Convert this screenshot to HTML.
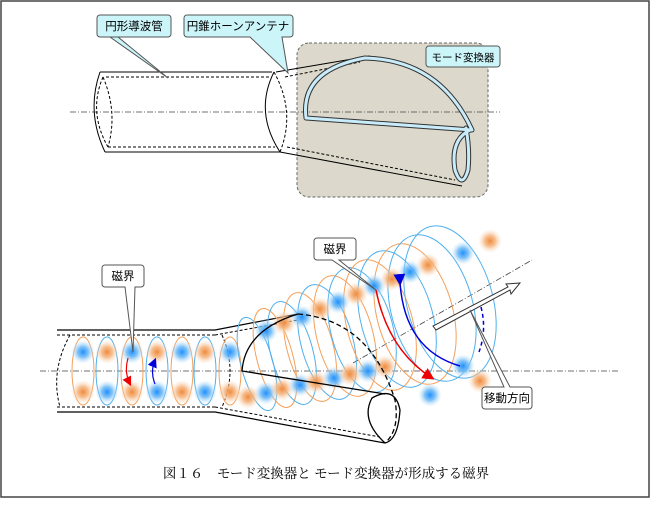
<!DOCTYPE html>
<html><head><meta charset="utf-8"><style>
html,body{margin:0;padding:0;background:#fff;}
svg{display:block;font-family:"Liberation Sans","Noto Sans CJK JP",sans-serif;}
</style></head><body>
<svg width="652" height="512" viewBox="0 0 652 512" xmlns="http://www.w3.org/2000/svg">
<defs>
<radialGradient id="gb"><stop offset="0" stop-color="#1e90ff"/><stop offset="0.45" stop-color="#6bb8f5" stop-opacity="0.85"/><stop offset="1" stop-color="#cfe8fb" stop-opacity="0"/></radialGradient>
<radialGradient id="go"><stop offset="0" stop-color="#f08a3c"/><stop offset="0.45" stop-color="#f5b47e" stop-opacity="0.85"/><stop offset="1" stop-color="#fbe0c8" stop-opacity="0"/></radialGradient>
<marker id="ar" markerWidth="8" markerHeight="8" refX="6" refY="4" orient="auto"><path d="M0,0 L8,4 L0,8z" fill="#e00"/></marker>
<marker id="ab" markerWidth="8" markerHeight="8" refX="6" refY="4" orient="auto"><path d="M0,0 L8,4 L0,8z" fill="#00d"/></marker>
</defs>
<rect x="1" y="1" width="648" height="496" fill="none" stroke="#444" stroke-width="1.5"/>

<!-- TOP -->
<rect x="297" y="43" width="191" height="154" rx="12" fill="#dcd9cc" stroke="#666" stroke-dasharray="3,2"/>
<line x1="70" y1="112" x2="500" y2="112" stroke="#444" stroke-width="0.8" stroke-dasharray="6,2,1,2"/>
<g fill="none" stroke="#000" stroke-width="1">
<path d="M100,72 L272,72 M105,152 L280,152"/>
<path d="M100,72 Q86,112 105,152"/>
<path d="M103,77 Q88,112 108,147" stroke-dasharray="3,2"/>
<path d="M103,77 Q118,112 108,147" stroke-dasharray="3,2"/>
<path d="M106,77 L270,77 M108,147 L275,147" stroke-dasharray="3,2"/>
<path d="M274,72 Q254,112 280,152"/>
<path d="M274,72 Q296,112 280,152" stroke-dasharray="3,2"/>
<path d="M276,72 L370,56 M280,152 L462,186"/>
<path d="M285,77 L360,62 M287,147 L455,180" stroke-dasharray="3,2"/>
</g>
<g fill="none" stroke-linecap="round" stroke-linejoin="round">
<path d="M306,118 Q300,70 365,58 Q440,60 472,130 L306,118 M470,130 Q450,140 455,170 Q462,190 468,170 Q470,150 466,128" stroke="#333" stroke-width="5"/>
<path d="M306,118 Q300,70 365,58 Q440,60 472,130 L306,118 M470,130 Q450,140 455,170 Q462,190 468,170 Q470,150 466,128" stroke="#c9ecfa" stroke-width="3"/>
</g>
<g font-size="11.5">
<path d="M100,15 h68 a3,3 0 0 1 3,3 v16 a3,3 0 0 1 -3,3 h-58 l58,41 l-50,-41 h-18 a3,3 0 0 1 -3,-3 v-16 a3,3 0 0 1 3,-3z" fill="#ccf5fa" stroke="#555"/>
<text x="134" y="30" text-anchor="middle">円形導波管</text>
<path d="M187,15 h103 a3,3 0 0 1 3,3 v16 a3,3 0 0 1 -3,3 h-8 l6,36 l-38,-36 h-63 a3,3 0 0 1 -3,-3 v-16 a3,3 0 0 1 3,-3z" fill="#ccf5fa" stroke="#555"/>
<text x="238" y="30" text-anchor="middle">円錐ホーンアンテナ</text>
<rect x="426" y="46" width="74" height="21" rx="3" fill="#ccf5fa" stroke="#555"/>
<text x="463" y="61" text-anchor="middle" font-size="10.5">モード変換器</text>
</g>

<!-- BOTTOM -->
<line x1="40" y1="371" x2="620" y2="371" stroke="#444" stroke-width="0.8" stroke-dasharray="6,2,1,2"/>
<line x1="353" y1="363" x2="532" y2="260" stroke="#444" stroke-width="0.8" stroke-dasharray="6,2,1,2"/>
<g fill="none" stroke="#000">
<path d="M57,330 L215,330 L298,314 M57,412 L215,412 L385,443" stroke-width="1.2"/>
<path d="M57,335 L215,335 M57,407 L215,407 M215,335 L298,320 M215,407 L380,437" stroke-dasharray="3,2"/>
<path d="M70,335 Q50,371 60,407" stroke-dasharray="3,2"/>
<path d="M222,335 Q238,371 222,407" stroke-dasharray="3,2"/>
</g>
<g fill="none" stroke-width="1">
<ellipse cx="83" cy="371" rx="11" ry="34" stroke="#f5a05a"/>
<ellipse cx="107" cy="371" rx="11" ry="34" stroke="#4fb0ee"/>
<ellipse cx="132" cy="371" rx="11" ry="34" stroke="#f5a05a"/>
<ellipse cx="157" cy="371" rx="11" ry="34" stroke="#4fb0ee"/>
<ellipse cx="182" cy="371" rx="11" ry="34" stroke="#f5a05a"/>
<ellipse cx="205" cy="371" rx="11" ry="34" stroke="#4fb0ee"/>
<ellipse cx="230" cy="371" rx="11" ry="34" stroke="#f5a05a"/>
</g>
<g>
<circle cx="83" cy="352" r="12" fill="url(#gb)"/><circle cx="83" cy="392" r="12" fill="url(#go)"/>
<circle cx="107" cy="352" r="12" fill="url(#go)"/><circle cx="107" cy="392" r="12" fill="url(#gb)"/>
<circle cx="132" cy="352" r="12" fill="url(#gb)"/><circle cx="132" cy="392" r="12" fill="url(#go)"/>
<circle cx="157" cy="352" r="12" fill="url(#go)"/><circle cx="157" cy="392" r="12" fill="url(#gb)"/>
<circle cx="182" cy="352" r="12" fill="url(#gb)"/><circle cx="182" cy="392" r="12" fill="url(#go)"/>
<circle cx="205" cy="352" r="12" fill="url(#go)"/><circle cx="205" cy="392" r="12" fill="url(#gb)"/>
<circle cx="230" cy="352" r="12" fill="url(#gb)"/><circle cx="230" cy="392" r="12" fill="url(#go)"/>
</g>
<g fill="none" stroke-width="1">
<ellipse cx="257" cy="364" rx="16" ry="48" stroke="#4fb0ee" transform="rotate(-15 257 364)"/>
<ellipse cx="275" cy="358" rx="18" ry="51" stroke="#f5a05a" transform="rotate(-15 275 358)"/>
<ellipse cx="292" cy="353" rx="21" ry="53" stroke="#4fb0ee" transform="rotate(-15 292 353)"/>
<ellipse cx="310" cy="347" rx="23" ry="56" stroke="#f5a05a" transform="rotate(-15 310 347)"/>
<ellipse cx="327" cy="342" rx="26" ry="59" stroke="#4fb0ee" transform="rotate(-15 327 342)"/>
<ellipse cx="345" cy="336" rx="28" ry="62" stroke="#f5a05a" transform="rotate(-15 345 336)"/>
<ellipse cx="362" cy="330" rx="31" ry="64" stroke="#4fb0ee" transform="rotate(-15 362 330)"/>
<ellipse cx="380" cy="325" rx="33" ry="67" stroke="#f5a05a" transform="rotate(-15 380 325)"/>
<ellipse cx="397" cy="319" rx="36" ry="70" stroke="#4fb0ee" transform="rotate(-15 397 319)"/>
<ellipse cx="415" cy="314" rx="38" ry="72" stroke="#f5a05a" transform="rotate(-15 415 314)"/>
<ellipse cx="432" cy="308" rx="41" ry="75" stroke="#4fb0ee" transform="rotate(-15 432 308)"/>
<ellipse cx="450" cy="302" rx="43" ry="78" stroke="#4fb0ee" transform="rotate(-15 450 302)"/>
</g>
<g>
<circle cx="266" cy="331" r="12" fill="url(#gb)"/><circle cx="248" cy="397" r="12" fill="url(#go)"/>
<circle cx="284" cy="323" r="12" fill="url(#go)"/><circle cx="266" cy="393" r="12" fill="url(#gb)"/>
<circle cx="302" cy="317" r="12" fill="url(#gb)"/><circle cx="282" cy="389" r="12" fill="url(#go)"/>
<circle cx="320" cy="309" r="12" fill="url(#go)"/><circle cx="300" cy="385" r="12" fill="url(#gb)"/>
<circle cx="338" cy="302" r="12" fill="url(#gb)"/><circle cx="316" cy="382" r="12" fill="url(#go)"/>
<circle cx="356" cy="294" r="12" fill="url(#go)"/><circle cx="334" cy="378" r="12" fill="url(#gb)"/>
<circle cx="374" cy="286" r="12" fill="url(#gb)"/><circle cx="350" cy="374" r="12" fill="url(#go)"/>
<circle cx="392" cy="279" r="12" fill="url(#go)"/><circle cx="368" cy="371" r="12" fill="url(#gb)"/>
<circle cx="410" cy="272" r="12" fill="url(#gb)"/><circle cx="385" cy="367" r="12" fill="url(#go)"/>
<circle cx="428" cy="265" r="12" fill="url(#go)"/><circle cx="430" cy="395" r="12" fill="url(#gb)"/>
<circle cx="463" cy="253" r="12" fill="url(#gb)"/><circle cx="480" cy="381" r="12" fill="url(#go)"/>
<circle cx="490" cy="241" r="12" fill="url(#go)"/><circle cx="463" cy="366" r="12" fill="url(#gb)"/>
</g>
<g fill="none" stroke="#000" stroke-width="1.3">
<path d="M298,314 Q245,330 242,371 L385,394"/>
<path d="M298,314 Q370,320 395,400 Q400,430 385,443" stroke-dasharray="5,3"/>
<path d="M385,443 Q360,420 372,398 Q395,385 400,410 Q398,440 385,443"/>
</g>
<path d="M376,290 Q388,350 432,378" fill="none" stroke="#e00" stroke-width="1.5" marker-end="url(#ar)"/>
<path d="M400,283 Q405,350 460,366" fill="none" stroke="#00d" stroke-width="1.5" marker-start="url(#ab)"/>
<path d="M128,358 Q124,372 130,384" fill="none" stroke="#e00" stroke-width="1.2" marker-end="url(#ar)"/>
<path d="M155,384 Q150,372 155,360" fill="none" stroke="#00d" stroke-width="1.2" marker-end="url(#ab)"/>
<path d="M436,330 L510,290 L511,294 L520,283 L506,284 L508,287 L433,326z" fill="#fff" stroke="#333"/>
<path d="M481,307 Q487,330 479,352" fill="none" stroke="#00d" stroke-width="1.5" stroke-dasharray="4,3"/>
<g font-size="11.5">
<path d="M105,265 h36 a3,3 0 0 1 3,3 v16 a3,3 0 0 1 -3,3 h-6 l-2,65 l-8,-65 h-20 a3,3 0 0 1 -3,-3 v-16 a3,3 0 0 1 3,-3z" fill="#fff" stroke="#555"/>
<text x="123" y="280" text-anchor="middle">磁界</text>
<path d="M317,238 h36 a3,3 0 0 1 3,3 v16 a3,3 0 0 1 -3,3 h-14 l37,30 l-44,-30 h-15 a3,3 0 0 1 -3,-3 v-16 a3,3 0 0 1 3,-3z" fill="#fff" stroke="#555"/>
<text x="335" y="253" text-anchor="middle">磁界</text>
<path d="M485,387 h19 l-34,-77 l40,77 h19 a3,3 0 0 1 3,3 v16 a3,3 0 0 1 -3,3 h-44 a3,3 0 0 1 -3,-3 v-16 a3,3 0 0 1 3,-3z" fill="#fff" stroke="#555"/>
<text x="507" y="402" text-anchor="middle">移動方向</text>
</g>
<text x="326" y="478" text-anchor="middle" font-size="13.5" font-family="'Liberation Serif','Noto Serif CJK SC',serif">図１６　モード変換器と モード変換器が形成する磁界</text>
</svg>
</body></html>
